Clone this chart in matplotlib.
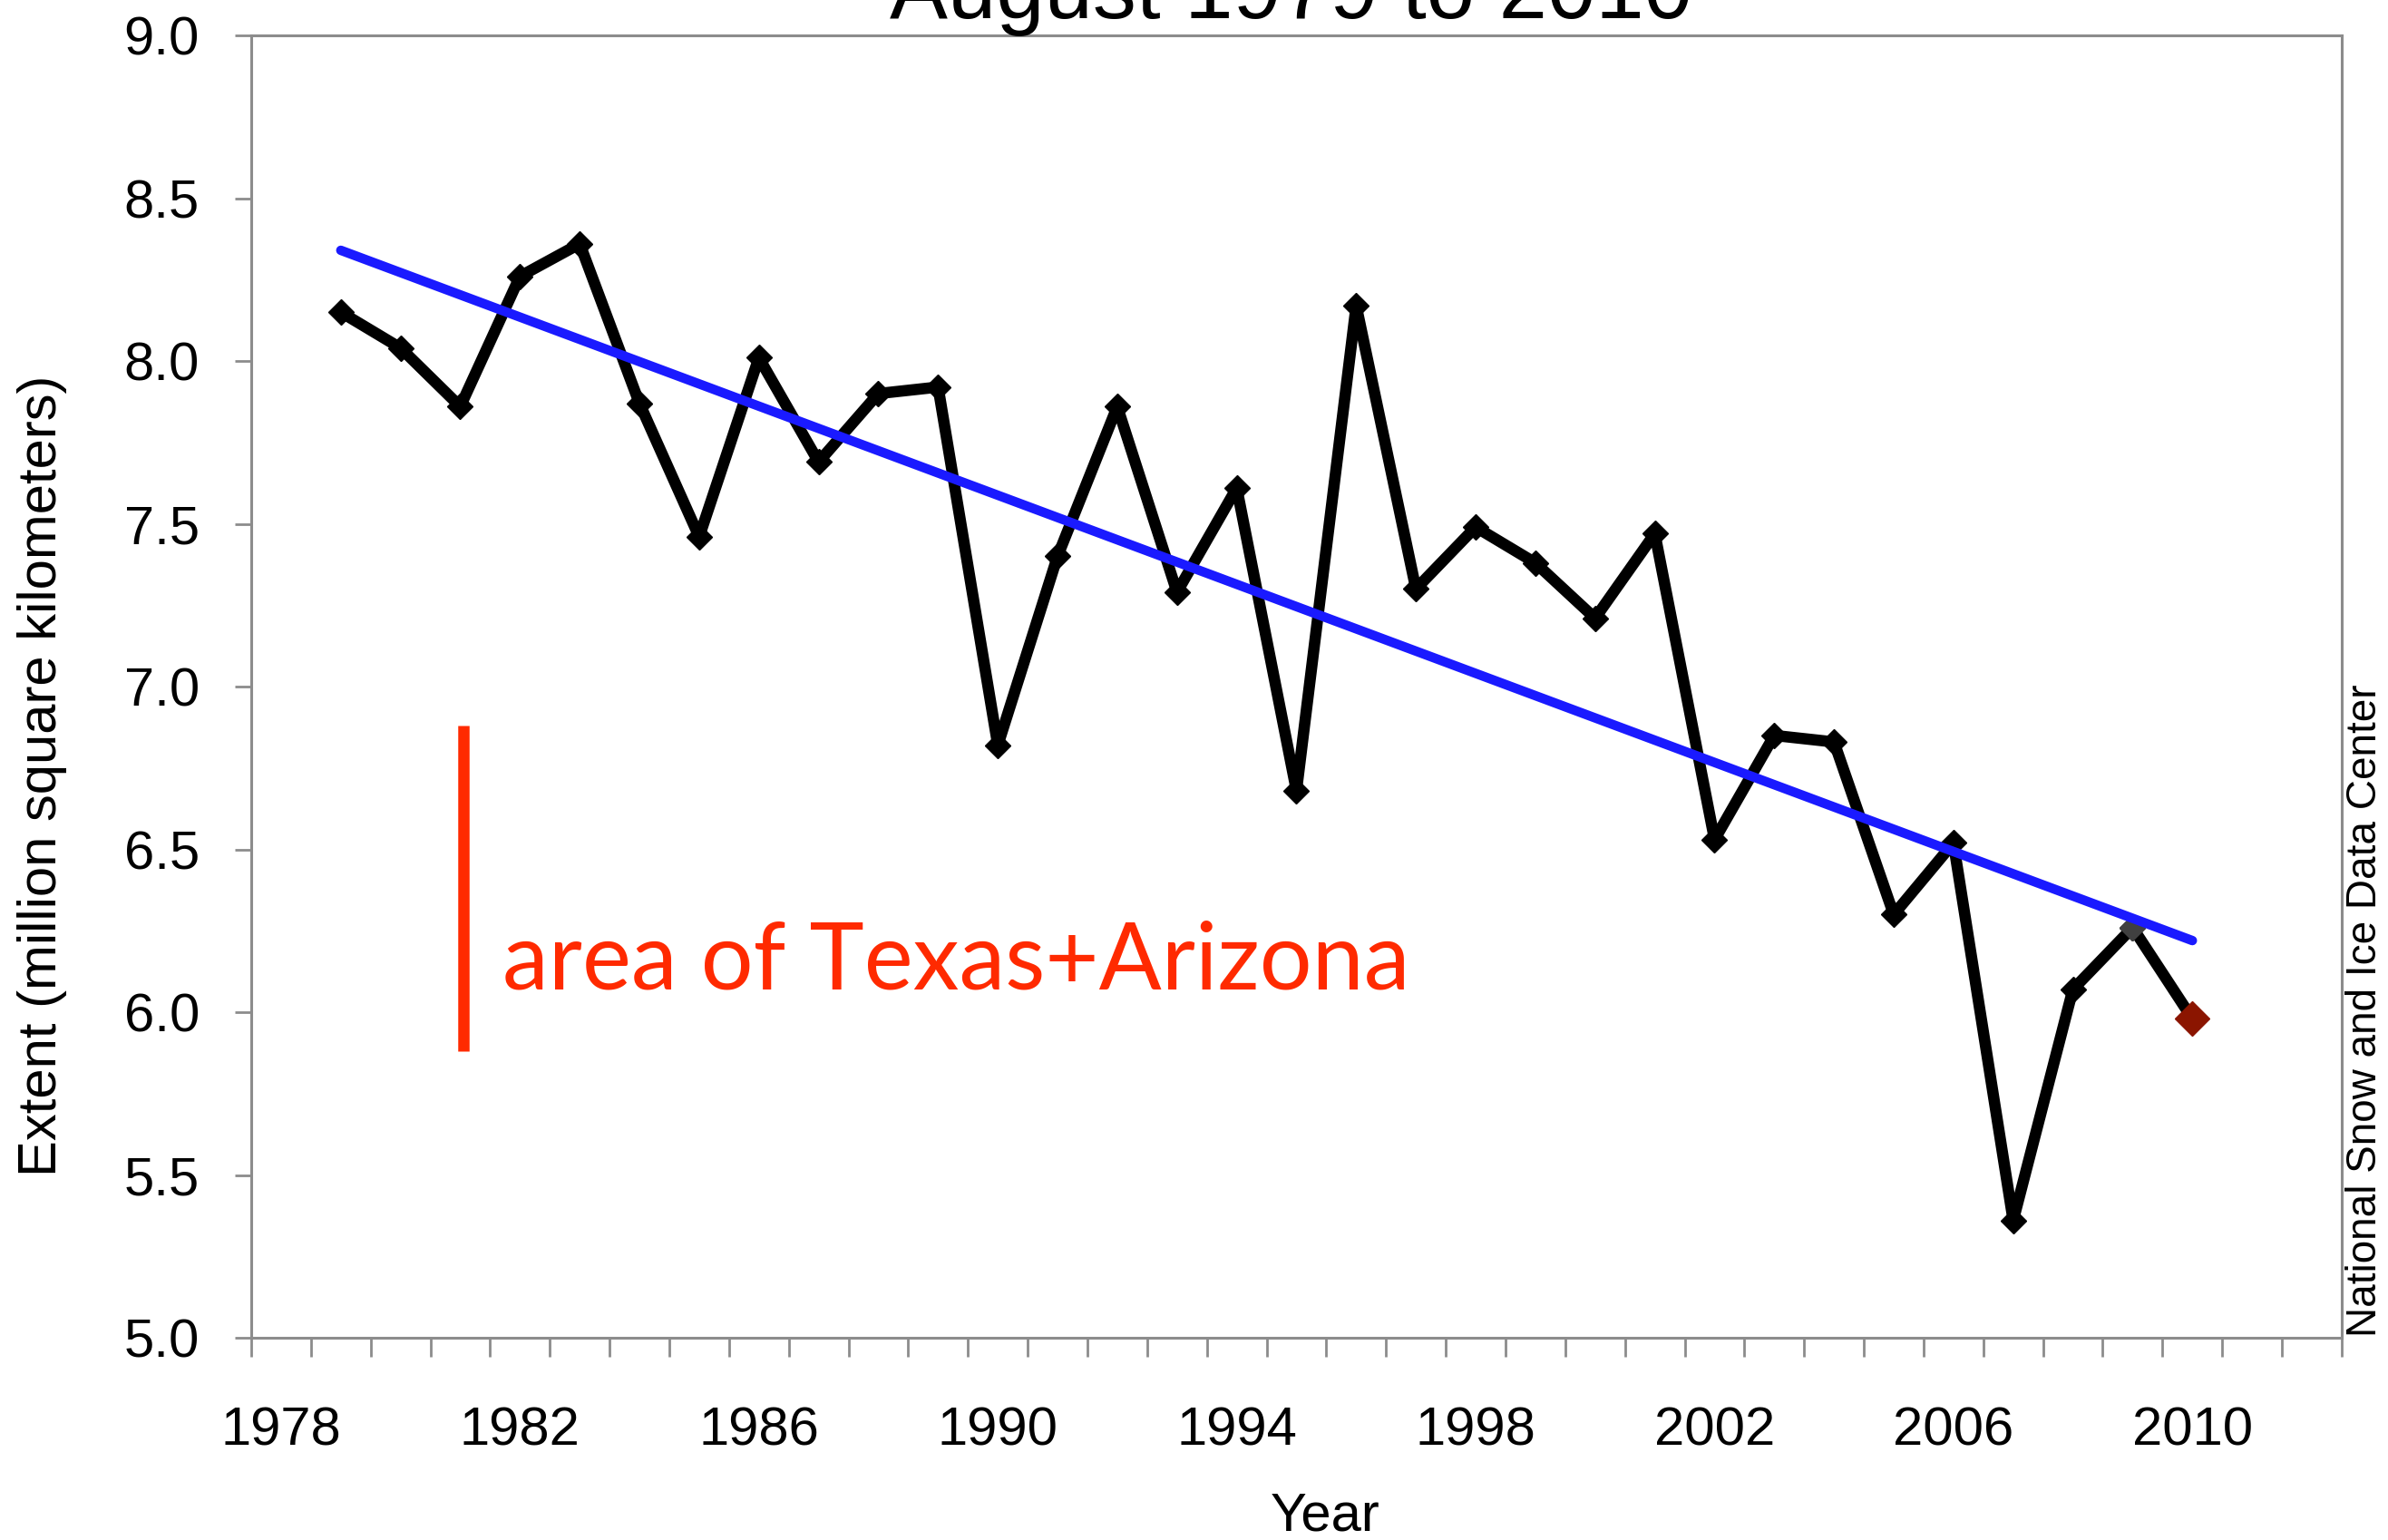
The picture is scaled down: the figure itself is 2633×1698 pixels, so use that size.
"""Arctic sea ice extent, August 1979 to 2010, with linear trend."""

import matplotlib

matplotlib.use("Agg")
import matplotlib.pyplot as plt
from matplotlib.ticker import FixedLocator, FormatStrFormatter

years = list(range(1979, 2011))
extent = [
    8.15, 8.04, 7.86, 8.26, 8.36, 7.87, 7.46, 8.01, 7.69, 7.90,
    7.92, 6.82, 7.40, 7.86, 7.29, 7.61, 6.68, 8.17, 7.30, 7.49,
    7.38, 7.21, 7.47, 6.53, 6.85, 6.83, 6.30, 6.52, 5.36, 6.07,
    6.26, 5.98,
]
trend_years = [1979, 2010]
trend_values = [8.34, 6.22]

# scale bar: area of Texas + Arizona (~1 million km2)
scale_x = [1981.05, 1981.05]
scale_values = [5.88, 6.88]

year_labels = list(range(1978, 2011, 4))
y_ticks = [5.0, 5.5, 6.0, 6.5, 7.0, 7.5, 8.0, 8.5, 9.0]

plt.rcParams["font.family"] = ["Liberation Sans", "DejaVu Sans"]
GRAY = "#8c8c8c"

fig = plt.figure(figsize=(26.33, 16.98), dpi=100)
ax = fig.add_axes([0.1052, 0.1313, 0.8754, 0.8457])

ax.plot(years, extent, color="black", lw=9, marker="D", ms=14, zorder=3,
        solid_joinstyle="round")
ax.plot(years[-2], extent[-2], marker="D", ms=14, color="#404040", ls="none", zorder=4)
ax.plot(trend_years, trend_values, color="#1a1aff", lw=7.5, solid_capstyle="round", zorder=4)
ax.plot(years[-1], extent[-1], marker="D", ms=19, color="#8b1500", ls="none", zorder=5)

ax.plot(scale_x, scale_values, color="#ff2a00", lw=9, solid_capstyle="butt")
ax.text(1981.7, 6.07, "area of Texas+Arizona", color="#ff2a00",
        fontsize=73.5, family=["Lato", "DejaVu Sans"], va="baseline", ha="left")

ax.set_xlim(1977.5, 2012.5)
ax.set_ylim(5.0, 9.0)

ax.xaxis.set_major_locator(FixedLocator(year_labels))
ax.xaxis.set_minor_locator(FixedLocator([y + 0.5 for y in range(1977, 2013)]))
ax.yaxis.set_major_locator(FixedLocator(y_ticks))
ax.yaxis.set_major_formatter(FormatStrFormatter("%.1f"))

ax.tick_params(axis="x", which="major", length=0, pad=54, labelsize=43)
ax.tick_params(axis="x", which="minor", length=15, width=2, color=GRAY, direction="out")
ax.tick_params(axis="y", which="major", length=13, width=2, color=GRAY, direction="out",
               pad=28, labelsize=43)

for spine in ax.spines.values():
    spine.set_color(GRAY)
    spine.set_linewidth(2.2)

fig.text(0.5405, 0.988, "August 1979 to 2010", fontsize=69, ha="center", va="baseline")
fig.text(0.555, 0.006, "Year", fontsize=43, ha="center", va="baseline")
fig.text(0.0178, 0.496, "Extent (million square kilometers)", fontsize=43,
         rotation=90, ha="center", va="center")
fig.text(0.9905, 0.132, "National Snow and Ice Data Center", fontsize=33,
         rotation=90, ha="center", va="bottom")

fig.savefig("out.png", dpi=100)
plt.close(fig)
